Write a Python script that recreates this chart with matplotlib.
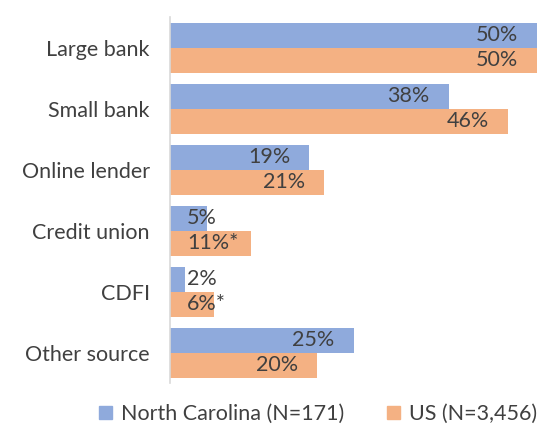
import numpy as np
import matplotlib.pyplot as plt
from matplotlib.patches import Patch

plt.rcParams['font.family'] = ['Lato', 'DejaVu Sans']

categories = ["Large bank", "Small bank", "Online lender", "Credit union", "CDFI", "Other source"]
nc_values = [50, 38, 19, 5, 2, 25]
us_values = [50, 46, 21, 11, 6, 20]
nc_labels = ["50%", "38%", "19%", "5%", "2%", "25%"]
us_labels = ["50%", "46%", "21%", "11%*", "6%*", "20%"]

blue = "#8faadc"
orange = "#f4b183"
text_col = "#404040"
fs = 15.5

fig = plt.figure(figsize=(5.37, 4.30), dpi=100)
ax = fig.add_axes([0.3166, 0.109, 0.6834, 0.851])

y = np.arange(len(categories))
h = 0.41
ax.barh(y - h / 2, nc_values, height=h, color=blue)
ax.barh(y + h / 2, us_values, height=h, color=orange)

ax.set_xlim(0, 50)
ax.set_ylim(len(categories) - 0.5, -0.5)


def put_labels(vals, labels, offset):
    for yi, v, lab in zip(y, vals, labels):
        if v >= 15:
            ax.text(v - 2.6, yi + offset, lab, ha="right", va="center",
                    fontsize=fs, color=text_col)
        else:
            ax.text(2.3, yi + offset, lab, ha="left", va="center",
                    fontsize=fs, color=text_col)


put_labels(nc_values, nc_labels, -h / 2)
put_labels(us_values, us_labels, h / 2)

ax.set_yticks(y)
ax.set_yticklabels(categories, fontsize=fs, color=text_col)
ax.tick_params(axis="y", length=0, pad=14.5)
ax.set_xticks([])
for s in ["top", "right", "bottom"]:
    ax.spines[s].set_visible(False)
ax.spines["left"].set_color("#d9d9d9")
ax.spines["left"].set_linewidth(1.2)

handles = [Patch(color=blue, label="North Carolina (N=171)"),
           Patch(color=orange, label="US (N=3,456)")]
fig.legend(handles=handles, loc="center", bbox_to_anchor=(0.592, 0.037), ncol=2,
           frameon=False, fontsize=fs, labelcolor=text_col,
           handlelength=0.6, handleheight=0.6, handletextpad=0.4, columnspacing=2.0)

fig.savefig("out.png", dpi=100)
